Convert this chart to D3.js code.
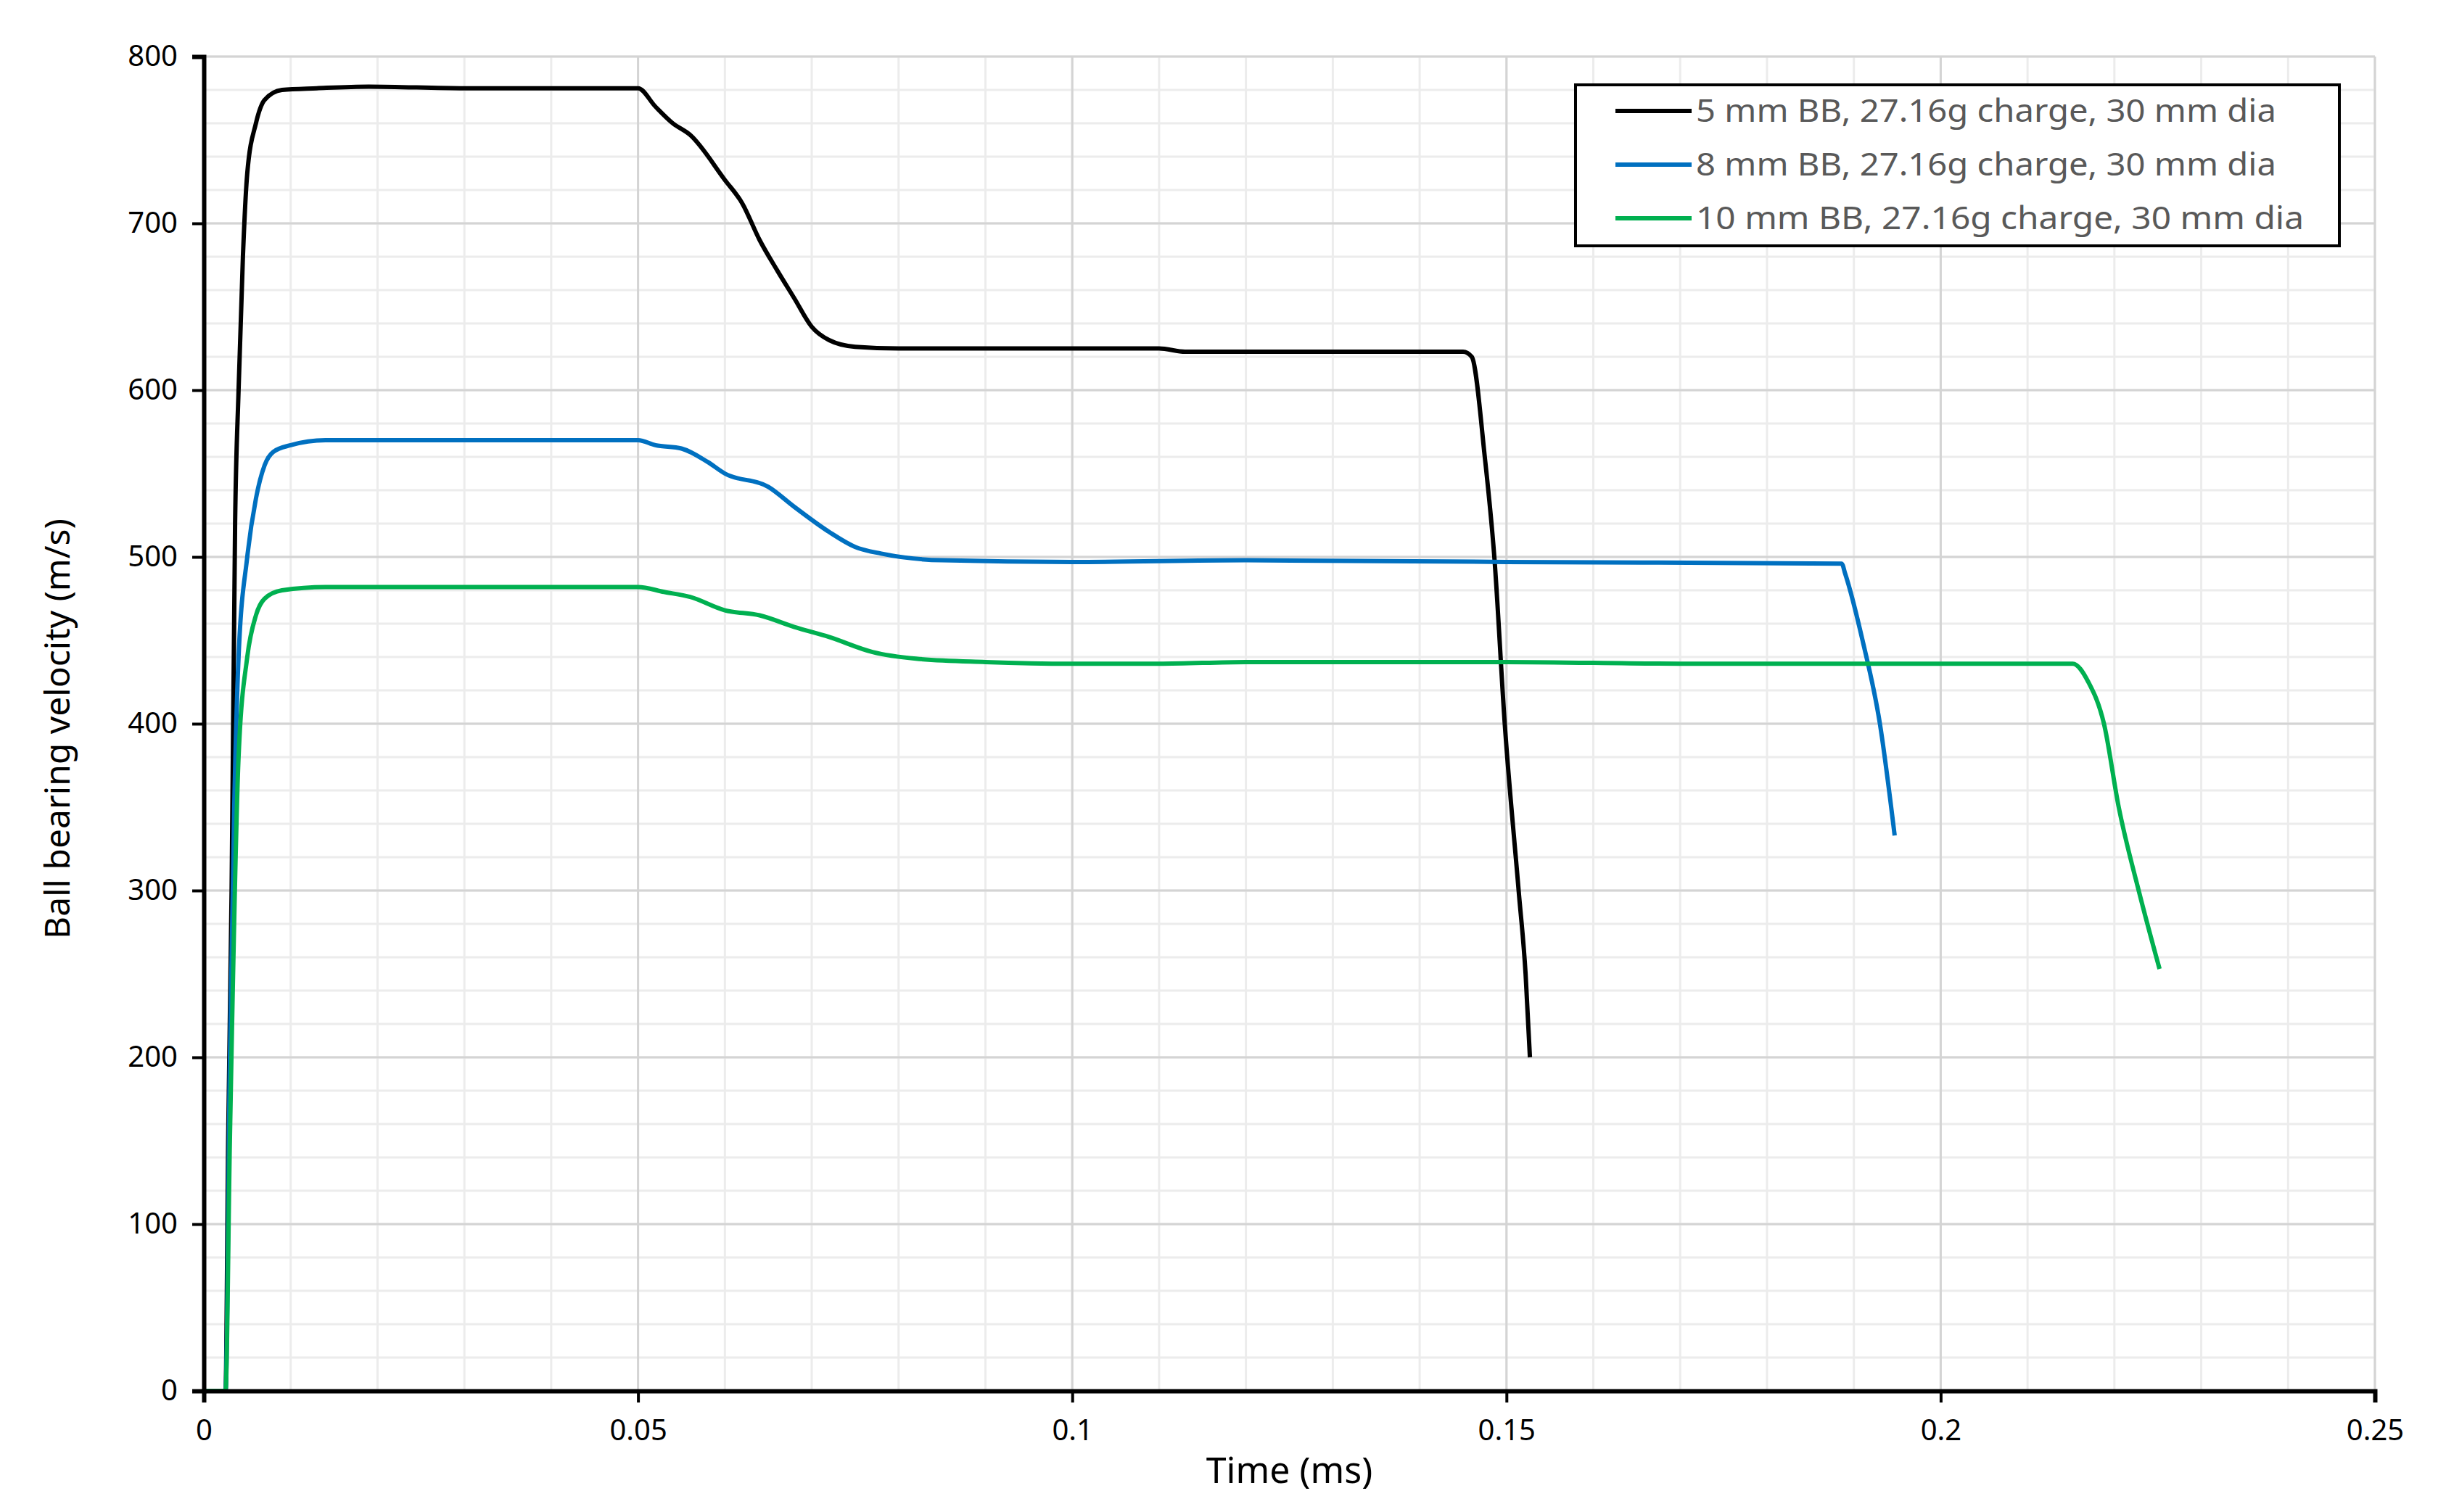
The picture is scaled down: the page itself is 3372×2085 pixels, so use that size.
<!DOCTYPE html>
<html>
<head>
<meta charset="utf-8">
<script src="https://cdn.jsdelivr.net/npm/d3@7"></script>
<style>
  body { margin: 0; background: #fff; }
  text { font-family: "Noto Sans", "Open Sans", sans-serif; }
</style>
</head>
<body>
<svg id="chart" width="3372" height="2085"></svg>
<script>
// series data: [time (ms), velocity (m/s)]
var bb5 = [[0,0],[0.0025,0],[0.0028,150],[0.0032,300],[0.0036,520],[0.004,600],[0.0045,680],[0.005,730],[0.006,760],
  [0.007,774],[0.009,780],[0.013,781],[0.019,782],[0.03,781],[0.05,781],[0.052,770],[0.054,760],[0.056,753],
  [0.06,726],[0.062,712],[0.064,690],[0.066,672],[0.068,655],[0.07,638],[0.072,630],[0.075,626],[0.08,625],
  [0.1,625],[0.11,625],[0.113,623],[0.12,623],[0.145,623],[0.146,620],[0.1475,560],[0.1486,500],[0.1498,400],
  [0.1514,300],[0.1522,250],[0.1527,200]];
var bb8 = [[0,0],[0.0025,0],[0.003,200],[0.0035,350],[0.004,440],[0.005,500],[0.006,535],[0.007,555],[0.008,563],
  [0.01,567],[0.014,570],[0.05,570],[0.052,567],[0.055,565],[0.058,557],[0.06,550],[0.065,542],[0.068,530],
  [0.072,515],[0.075,506],[0.078,502],[0.085,498],[0.1,497],[0.12,498],[0.15,497],[0.1886,496],[0.189,490],
  [0.191,450],[0.193,400],[0.1947,333]];
var bb10 = [[0,0],[0.0025,0],[0.003,150],[0.004,380],[0.005,440],[0.006,465],[0.007,475],[0.009,480],[0.014,482],
  [0.05,482],[0.053,479],[0.056,476],[0.06,468],[0.064,465],[0.068,458],[0.072,452],[0.077,443],[0.082,439],
  [0.09,437],[0.1,436],[0.11,436],[0.12,437],[0.15,437],[0.17,436],[0.2,436],[0.2152,436],[0.217,425],
  [0.2188,400],[0.2205,350],[0.2228,300],[0.2252,253]];
var seriesNames = ["5 mm BB, 27.16g charge, 30 mm dia", "8 mm BB, 27.16g charge, 30 mm dia", "10 mm BB, 27.16g charge, 30 mm dia"];
var seriesColours = ["#000000", "#0070c0", "#00b050"];
var xTicks = [0, 0.05, 0.1, 0.15, 0.2, 0.25];
var yTicks = [0, 100, 200, 300, 400, 500, 600, 700, 800];

var svg = d3.select("#chart");
var m = {left: 281, right: 3274, top: 78, bottom: 1918};

var x = d3.scaleLinear().domain([0, 0.25]).range([m.left, m.right]);
var y = d3.scaleLinear().domain([0, 800]).range([m.bottom, m.top]);

// minor grid
var grid = svg.append("g");
grid.selectAll(".vmin").data(d3.range(0.01, 0.2501, 0.01)).enter().append("line")
  .attr("x1", d => x(d)).attr("x2", d => x(d)).attr("y1", m.top).attr("y2", m.bottom)
  .attr("stroke", "#ececec").attr("stroke-width", 3);
grid.selectAll(".hmin").data(d3.range(20, 801, 20)).enter().append("line")
  .attr("x1", m.left).attr("x2", m.right).attr("y1", d => y(d)).attr("y2", d => y(d))
  .attr("stroke", "#ececec").attr("stroke-width", 3);
// major grid
grid.selectAll(".vmaj").data(xTicks.slice(1)).enter().append("line")
  .attr("x1", d => x(d)).attr("x2", d => x(d)).attr("y1", m.top).attr("y2", m.bottom)
  .attr("stroke", "#d4d4d4").attr("stroke-width", 3);
grid.selectAll(".hmaj").data(yTicks.slice(1)).enter().append("line")
  .attr("x1", m.left).attr("x2", m.right).attr("y1", d => y(d)).attr("y2", d => y(d))
  .attr("stroke", "#d4d4d4").attr("stroke-width", 3);

// series
var line = d3.line().x(d => x(d[0])).y(d => y(d[1])).curve(d3.curveMonotoneX);
[bb5, bb8, bb10].forEach(function(s, i) {
  svg.append("path").datum(s).attr("d", line).attr("fill", "none")
    .attr("stroke", seriesColours[i]).attr("stroke-width", 6).attr("stroke-linejoin", "round");
});

// axes
var xAxis = svg.append("g").attr("transform", "translate(0," + m.bottom + ")")
  .call(d3.axisBottom(x).tickValues(xTicks).tickFormat(d3.format("")).tickSize(16).tickPadding(24));
var yAxis = svg.append("g").attr("transform", "translate(" + m.left + ",0)")
  .call(d3.axisLeft(y).tickValues(yTicks).tickSize(16).tickPadding(20));
[xAxis, yAxis].forEach(function(a) {
  a.select(".domain").attr("stroke", "#000").attr("stroke-width", 6);
  a.selectAll(".tick line").attr("stroke", "#000").attr("stroke-width", 4);
  a.selectAll(".tick text").attr("font-size", 40).attr("fill", "#000")
    .style("font-family", "'Noto Sans', sans-serif");
});

svg.append("text").attr("x", (m.left + m.right) / 2).attr("y", 2045).attr("text-anchor", "middle")
  .attr("font-size", 50).text("Time (ms)");
svg.append("text").attr("transform", "translate(96,1005) rotate(-90)").attr("text-anchor", "middle")
  .attr("font-size", 48).text("Ball bearing velocity (m/s)");

// legend
var lg = svg.append("g");
lg.append("rect").attr("x", 2172).attr("y", 117).attr("width", 1053).attr("height", 222)
  .attr("fill", "#fff").attr("stroke", "#000").attr("stroke-width", 4);
seriesNames.forEach(function(n, i) {
  var ly = 153 + i * 74;
  lg.append("line").attr("x1", 2227).attr("x2", 2332).attr("y1", ly).attr("y2", ly)
    .attr("stroke", seriesColours[i]).attr("stroke-width", 6);
  lg.append("text").attr("x", 2338).attr("y", ly + 15).attr("font-size", 43).attr("fill", "#595959")
    .attr("textLength", i == 2 ? 838 : 800).attr("lengthAdjust", "spacingAndGlyphs").text(n);
});
</script>
</body>
</html>
